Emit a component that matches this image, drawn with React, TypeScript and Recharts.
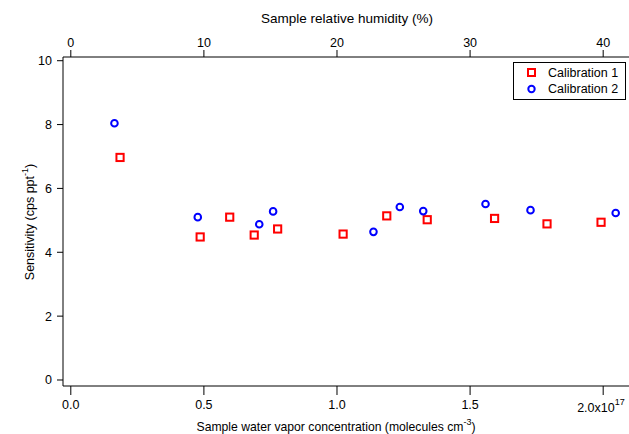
import { Scatter, ScatterChart, XAxis, YAxis, Label } from "recharts";

// water vapour concentration in units of 1e17 molecules cm^-3
const cal1X = [0.185, 0.486, 0.597, 0.689, 0.777, 1.023, 1.187, 1.339, 1.592, 1.789, 1.992];
const cal1Y = [6.97, 4.48, 5.1, 4.54, 4.73, 4.57, 5.14, 5.02, 5.06, 4.89, 4.94];
const cal2X = [0.164, 0.477, 0.708, 0.76, 1.137, 1.236, 1.324, 1.558, 1.727, 2.047];
const cal2Y = [8.04, 5.1, 4.88, 5.28, 4.64, 5.42, 5.29, 5.51, 5.32, 5.23];

const bottomTicks = [0, 0.5, 1, 1.5, 2];
const topTicks = [0, 10, 20, 30, 40];
const yTicks = [0, 2, 4, 6, 8, 10];
const xDomain = [-0.0293, 2.097];
// relative humidity axis shares the same scale: 10 % RH = 0.5e17
const rhPerUnit = 20;

const cal1 = cal1X.map((x, i) => ({ x, y: cal1Y[i] }));
const cal2 = cal2X.map((x, i) => ({ x, y: cal2Y[i] }));

const FONT = "'Liberation Sans', Arial, sans-serif";
const FS = 12.5;

const Square = (p: any) => (
  <rect x={p.cx - 3.6} y={p.cy - 3.6} width={7.2} height={7.2} fill="none" stroke="#ff0000" strokeWidth={2} />
);
const Circle = (p: any) => <circle cx={p.cx} cy={p.cy} r={3.3} fill="none" stroke="#0000ff" strokeWidth={2} />;

const BottomTick = (p: any) => {
  const v = p.payload.value;
  if (v === 2) {
    return (
      <text x={p.x - 26} y={p.y + 15} fontSize={FS} fontFamily={FONT} fill="#000">
        2.0x10<tspan dy={-7} fontSize={9}>17</tspan>
      </text>
    );
  }
  return (
    <text x={p.x} y={p.y + 12} textAnchor="middle" fontSize={FS} fontFamily={FONT} fill="#000">
      {v.toFixed(1)}
    </text>
  );
};

const legendItems = [
  { name: "Calibration 1", sq: true },
  { name: "Calibration 2", sq: false },
];

const LegendBox = () => (
  <div
    style={{
      position: "absolute",
      left: 513,
      top: 62,
      border: "1.5px solid #000",
      background: "#fff",
      width: 111,
      padding: "2px 0",
      fontFamily: FONT,
      fontSize: FS,
      lineHeight: "16px",
    }}
  >
    {legendItems.map((e) => (
      <div key={e.name} style={{ display: "flex", alignItems: "center" }}>
        <svg width={34} height={14}>
          {e.sq ? (
            <rect x={14} y={3} width={7} height={7} fill="none" stroke="#ff0000" strokeWidth={2} />
          ) : (
            <circle cx={17.5} cy={7} r={3.2} fill="none" stroke="#0000ff" strokeWidth={2} />
          )}
        </svg>
        <span>{e.name}</span>
      </div>
    ))}
  </div>
);

export default function App() {
  return (
    <div style={{ position: "absolute", left: 0, top: 0, width: 629, height: 434, background: "#fff" }}>
      <ScatterChart width={629} height={434} margin={{ top: 0, right: 0, bottom: 0, left: 0 }}>
        <XAxis
          xAxisId="rh"
          orientation="top"
          type="number"
          dataKey="x"
          height={57}
          domain={[xDomain[0] * rhPerUnit, xDomain[1] * rhPerUnit]}
          ticks={topTicks}
          allowDataOverflow
          tickSize={7}
          tickMargin={3}
          stroke="#000"
          tick={{ fill: "#000", fontSize: FS, fontFamily: FONT }}
        >
          <Label
            content={() => (
              <text x={347} y={23} textAnchor="middle" fontSize={13.5} fontFamily={FONT} fill="#000">
                Sample relative humidity (%)
              </text>
            )}
          />
        </XAxis>
        <XAxis
          xAxisId="conc"
          orientation="bottom"
          type="number"
          dataKey="x"
          height={48}
          domain={xDomain}
          ticks={bottomTicks}
          allowDataOverflow
          tickSize={9}
          stroke="#000"
          tick={<BottomTick />}
        >
          <Label
            content={() => (
              <text x={336} y={431} textAnchor="middle" fontSize={12.2} fontFamily={FONT} fill="#000">
                Sample water vapor concentration (molecules cm<tspan dy={-6} fontSize={9}>-3</tspan>
                <tspan dy={6}>)</tspan>
              </text>
            )}
          />
        </XAxis>
        <YAxis
          type="number"
          dataKey="y"
          width={63}
          domain={[-0.188, 10.116]}
          ticks={yTicks}
          allowDataOverflow
          tickSize={6}
          tickMargin={5}
          stroke="#000"
          tick={{ fill: "#000", fontSize: FS, fontFamily: FONT }}
        >
          <Label
            content={() => (
              <text
                x={0}
                y={0}
                transform="translate(34,222) rotate(-90)"
                textAnchor="middle"
                fontSize={FS}
                fontFamily={FONT}
                fill="#000"
              >
                Sensitivity (cps ppt<tspan dy={-6} fontSize={9}>-1</tspan>
                <tspan dy={6}>)</tspan>
              </text>
            )}
          />
        </YAxis>
        <Scatter name="Calibration 1" data={cal1} xAxisId="conc" shape={Square} isAnimationActive={false} />
        <Scatter name="Calibration 2" data={cal2} xAxisId="conc" shape={Circle} isAnimationActive={false} />
      </ScatterChart>
      <LegendBox />
    </div>
  );
}
